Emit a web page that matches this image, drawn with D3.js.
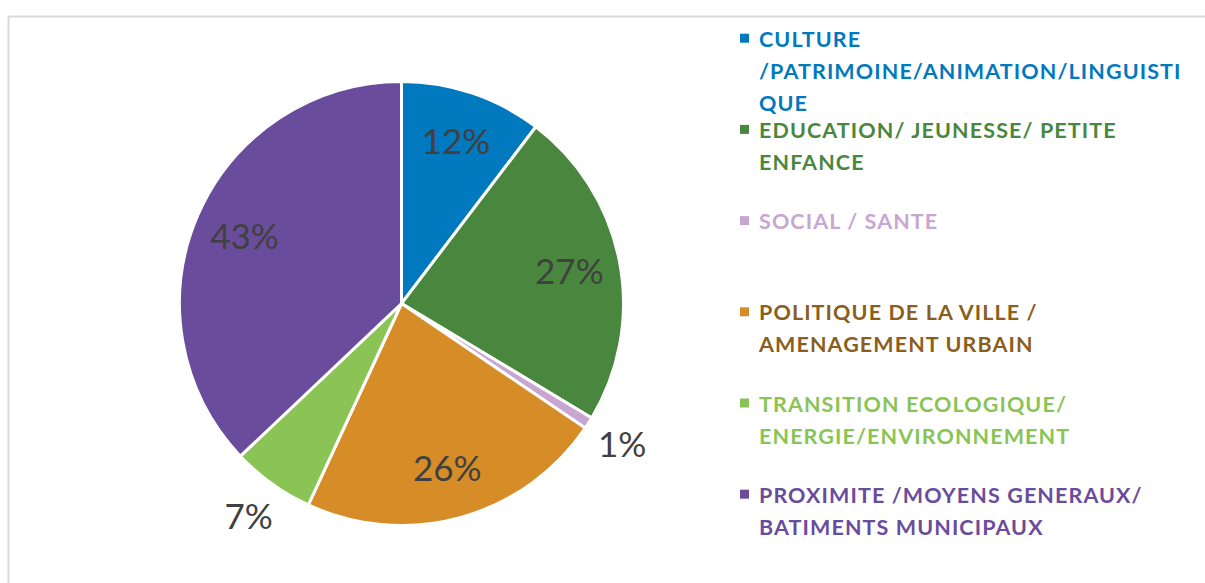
<!DOCTYPE html>
<html>
<head>
<meta charset="utf-8">
<script src="https://cdn.jsdelivr.net/npm/d3@7"></script>
<style>
  html, body { margin: 0; padding: 0; background: #ffffff; }
  svg { display: block; }
</style>
</head>
<body>
<svg id="chart" width="1205" height="583"></svg>
<script>
// ---- data ----
const categories = [
  "CULTURE /PATRIMOINE/ANIMATION/LINGUISTIQUE",
  "EDUCATION/ JEUNESSE/ PETITE ENFANCE",
  "SOCIAL / SANTE",
  "POLITIQUE DE LA VILLE / AMENAGEMENT URBAIN",
  "TRANSITION ECOLOGIQUE/ ENERGIE/ENVIRONNEMENT",
  "PROXIMITE /MOYENS GENERAUX/ BATIMENTS MUNICIPAUX"
];
const values = [12, 27, 1, 26, 7, 43];
const valueLabels = ["12%", "27%", "1%", "26%", "7%", "43%"];
const legendLines = [
  ["CULTURE", "/PATRIMOINE/ANIMATION/LINGUISTI", "QUE"],
  ["EDUCATION/ JEUNESSE/ PETITE", "ENFANCE"],
  ["SOCIAL / SANTE"],
  ["POLITIQUE DE LA VILLE /", "AMENAGEMENT URBAIN"],
  ["TRANSITION ECOLOGIQUE/", "ENERGIE/ENVIRONNEMENT"],
  ["PROXIMITE /MOYENS GENERAUX/", "BATIMENTS MUNICIPAUX"]
];
const sliceColors = ["#0179be", "#4a873e", "#c9a6d1", "#d68d27", "#89c455", "#6a4c9c"];
const legendTextColors = ["#0179be", "#4a873e", "#c9a6d1", "#8b5e1c", "#89c455", "#6a4c9c"];

// ---- layout ----
const svg = d3.select("#chart");
const W = 1205, H = 583;
const cx = 401.5, cy = 303.5, R = 222;

// chart frame (top and left edges visible)
svg.append("line").attr("x1", 8.5).attr("x2", W).attr("y1", 16.5).attr("y2", 16.5)
  .attr("stroke", "#d9d9d9").attr("stroke-width", 2);
svg.append("line").attr("x1", 8.5).attr("x2", 8.5).attr("y1", 16.5).attr("y2", H)
  .attr("stroke", "#d9d9d9").attr("stroke-width", 2);

const pie = d3.pie().sort(null).value(d => d);
const arcs = pie(values);
const arc = d3.arc().innerRadius(0).outerRadius(R);
const inLabelArc = d3.arc().innerRadius(R * 0.77).outerRadius(R * 0.77);
const outLabelArc = d3.arc().innerRadius(R * 1.18).outerRadius(R * 1.18);

const g = svg.append("g").attr("transform", `translate(${cx},${cy})`);
g.selectAll("path.slice").data(arcs).enter().append("path")
  .attr("class", "slice")
  .attr("d", arc)
  .attr("fill", (d, i) => sliceColors[i])
  .attr("stroke", "#ffffff")
  .attr("stroke-width", 3)
  .attr("stroke-linejoin", "miter");

g.selectAll("text.val").data(arcs).enter().append("text")
  .attr("class", "val")
  .attr("transform", d => {
    const c = (d.data >= 10 ? inLabelArc : outLabelArc).centroid(d);
    return `translate(${c[0]},${c[1]})`;
  })
  .attr("text-anchor", "middle")
  .attr("dy", "0.36em")
  .attr("font-family", "Lato, 'Open Sans', sans-serif")
  .attr("font-size", 35)
  .attr("fill", "#404040")
  .text((d, i) => valueLabels[i]);

// legend
const legX = 740, legTextX = 759, legY0 = 46.7, legStep = 91.2, lineH = 32;
const leg = svg.append("g");
legendLines.forEach((lines, i) => {
  const by = legY0 + i * legStep;
  leg.append("rect")
    .attr("x", legX).attr("y", by - 13).attr("width", 9).attr("height", 9)
    .attr("fill", sliceColors[i]);
  const t = leg.append("text")
    .attr("font-family", "Lato, 'Open Sans', sans-serif")
    .attr("font-weight", "bold")
    .attr("font-size", 21.5)
    .attr("letter-spacing", 1.1)
    .attr("fill", legendTextColors[i]);
  lines.forEach((ln, j) => {
    t.append("tspan").attr("x", legTextX).attr("y", by + j * lineH).text(ln);
  });
});
</script>
</body>
</html>
